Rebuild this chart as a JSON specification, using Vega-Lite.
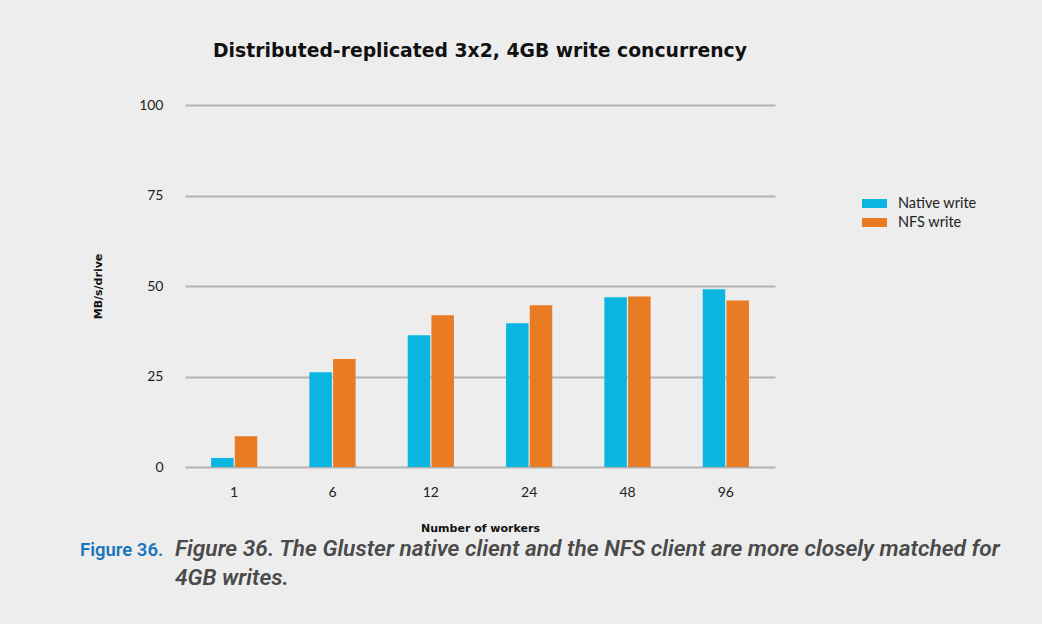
{
  "$schema": "https://vega.github.io/schema/vega-lite/v6.json",
  "background": "#ededed",
  "padding": {"left": 80, "top": 42, "right": 42, "bottom": 28},
  "config": {"view": {"stroke": null}, "font": "Lato", "concat": {"spacing": 4}},
  "vconcat": [
    {
      "width": 590,
      "height": 362,
      "title": {
        "text": "Distributed-replicated 3x2, 4GB write concurrency",
        "font": "DejaVu Sans",
        "fontSize": 18.8,
        "fontWeight": "bold",
        "color": "#111111",
        "anchor": "middle",
        "offset": 37
      },
      "data": {
        "values": [
          {"workers": "1", "series": "Native write", "value": 2.5},
          {"workers": "1", "series": "NFS write", "value": 8.5},
          {"workers": "6", "series": "Native write", "value": 26.2},
          {"workers": "6", "series": "NFS write", "value": 29.8},
          {"workers": "12", "series": "Native write", "value": 36.4},
          {"workers": "12", "series": "NFS write", "value": 41.9},
          {"workers": "24", "series": "Native write", "value": 39.7},
          {"workers": "24", "series": "NFS write", "value": 44.7},
          {"workers": "48", "series": "Native write", "value": 46.9},
          {"workers": "48", "series": "NFS write", "value": 47.1},
          {"workers": "96", "series": "Native write", "value": 49.1},
          {"workers": "96", "series": "NFS write", "value": 46.0}
        ]
      },
      "mark": {"type": "bar"},
      "encoding": {
        "x": {
          "field": "workers",
          "type": "ordinal",
          "sort": ["1", "6", "12", "24", "48", "96"],
          "scale": {"paddingInner": 0.53, "paddingOuter": 0.265},
          "axis": {
            "title": "Number of workers",
            "titleFont": "DejaVu Sans",
            "titleFontSize": 11,
            "titleFontWeight": "bold",
            "titleColor": "#111111",
            "titlePadding": 23,
            "labelAngle": 0,
            "labelFontSize": 14,
            "labelColor": "#222222",
            "labelPadding": 18,
            "ticks": false,
            "domain": false
          }
        },
        "xOffset": {
          "field": "series",
          "type": "nominal",
          "sort": ["Native write", "NFS write"],
          "scale": {"paddingInner": 0.05}
        },
        "y": {
          "field": "value",
          "type": "quantitative",
          "scale": {"domain": [0, 100]},
          "axis": {
            "title": "MB/s/drive",
            "titleFont": "DejaVu Sans",
            "titleFontSize": 11,
            "titleFontWeight": "bold",
            "titleColor": "#111111",
            "titlePadding": 35,
            "values": [0, 25, 50, 75, 100],
            "labelFontSize": 14,
            "labelColor": "#222222",
            "labelPadding": 22,
            "ticks": false,
            "domain": false,
            "grid": true,
            "gridColor": "#b3b3b3",
            "gridWidth": 2
          }
        },
        "color": {
          "field": "series",
          "type": "nominal",
          "sort": ["Native write", "NFS write"],
          "scale": {"domain": ["Native write", "NFS write"], "range": ["#0ab6e1", "#e97b23"]},
          "legend": {
            "title": null,
            "orient": "none",
            "legendX": 677,
            "legendY": 86,
            "symbolType": "M-1,-0.36H1V0.36H-1Z",
            "symbolSize": 625,
            "symbolStrokeWidth": 0,
            "labelFontSize": 14.5,
            "labelColor": "#222222",
            "labelOffset": 11,
            "rowPadding": -2,
            "padding": 0
          }
        }
      }
    },
    {
      "spacing": 0,
      "bounds": "flush",
      "hconcat": [
        {
          "width": 1,
          "height": 1,
          "data": {"values": [{}]},
          "mark": {"type": "text"},
          "encoding": {"text": {"value": ""}},
          "title": {
            "text": "Figure 36.",
            "font": "Roboto",
            "fontSize": 18.5,
            "fontWeight": 600,
            "color": "#1c75bc",
            "anchor": "start",
            "baseline": "top",
            "dx": -105,
            "dy": -30,
            "offset": 0
          }
        },
        {
          "width": 800,
          "height": 1,
          "data": {"values": [{}]},
          "mark": {"type": "text"},
          "encoding": {"text": {"value": ""}},
          "title": {
            "text": ["Figure 36. The Gluster native client and the NFS client are more closely matched for", "4GB writes."],
            "font": "Roboto",
            "fontSize": 22.7,
            "fontStyle": "italic",
            "fontWeight": 600,
            "color": "#4a4a4a",
            "anchor": "start",
            "baseline": "top",
            "lineHeight": 29,
            "dx": -11,
            "offset": 0
          }
        }
      ]
    }
  ]
}
